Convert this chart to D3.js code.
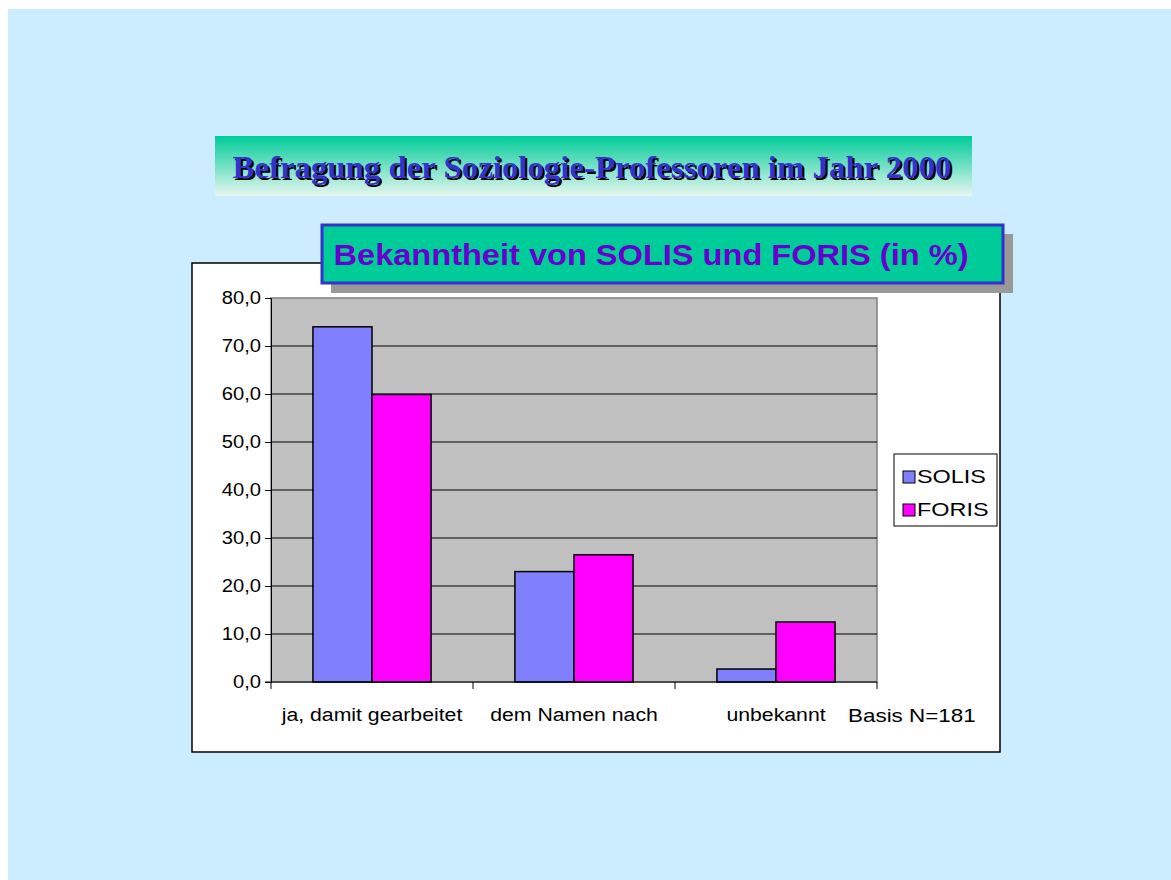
<!DOCTYPE html>
<html><head><meta charset="utf-8">
<script src="https://cdn.jsdelivr.net/npm/d3@7"></script>
<style>body{margin:0;background:#fff;} svg{display:block;}</style>
</head><body>
<svg id="c" width="1171" height="880"></svg>
<script>
const categories = ["ja, damit gearbeitet", "dem Namen nach", "unbekannt"];
const seriesNames = ["SOLIS", "FORIS"];
const solis = [74.0, 23.0, 2.7];
const foris = [59.9, 26.5, 12.5];
const yTicks = [0, 10, 20, 30, 40, 50, 60, 70, 80];
const colors = ["#8080FF", "#FF00FF"];
const bannerTitle = "Befragung der Soziologie-Professoren im Jahr 2000";
const chartTitle = "Bekanntheit von SOLIS und FORIS (in %)";
const note = "Basis N=181";

const SANS = "Liberation Sans, Arial, sans-serif";
const svg = d3.select("#c");
const defs = svg.append("defs");
const g1 = defs.append("linearGradient").attr("id","bg1").attr("x1",0).attr("y1",0).attr("x2",0).attr("y2",1);
g1.append("stop").attr("offset","0%").attr("stop-color","#00CC99");
g1.append("stop").attr("offset","100%").attr("stop-color","#E6F6EF");

function stretch(sel, f){
  sel.each(function(){
    const L = this.getComputedTextLength();
    d3.select(this).attr("textLength", L*f).attr("lengthAdjust","spacingAndGlyphs");
  });
}

svg.append("rect").attr("x",8).attr("y",9).attr("width",1163).attr("height",871).attr("fill","#CCECFF");

// banner
svg.append("rect").attr("x",215).attr("y",136).attr("width",757).attr("height",60).attr("fill","url(#bg1)");
const bt = {x:592, y:178};
[["#000",2],["#3333CC",0]].forEach(([c,o])=>{
  svg.append("text").attr("x",bt.x+o).attr("y",bt.y+o).attr("text-anchor","middle")
    .attr("font-family","Liberation Serif, Times New Roman, serif").attr("font-weight","bold").attr("font-size",32)
    .attr("fill",c).attr("textLength",719).attr("lengthAdjust","spacingAndGlyphs").text(bannerTitle);
});

// chart frame
svg.append("rect").attr("x",192).attr("y",263).attr("width",808).attr("height",489)
  .attr("fill","#fff").attr("stroke","#000").attr("stroke-width",1.5);

const m = {l:271, r:877, t:298, b:682};
const x0 = d3.scaleBand().domain(categories).range([m.l, m.r]).paddingInner(0).paddingOuter(0);
const x1 = d3.scaleBand().domain(seriesNames).range([0, x0.bandwidth()]).paddingInner(0).paddingOuter(0.71);
const y = d3.scaleLinear().domain([0,80]).range([m.b, m.t]);

svg.append("rect").attr("x",m.l).attr("y",m.t).attr("width",m.r-m.l).attr("height",m.b-m.t)
  .attr("fill","#C0C0C0").attr("stroke","#808080").attr("stroke-width",1.5);

// gridlines
svg.append("g").selectAll("line").data(yTicks.filter(d=>d>0 && d<80)).join("line")
  .attr("x1",m.l).attr("x2",m.r).attr("y1",d=>y(d)).attr("y2",d=>y(d))
  .attr("stroke","#000").attr("stroke-width",1);

// y axis
const yAxis = d3.axisLeft(y).tickValues(yTicks).tickSize(6).tickPadding(4)
  .tickFormat(d=>d3.format(".1f")(d).replace(".",","));
const ya = svg.append("g").attr("transform",`translate(${m.l},0)`).call(yAxis);
ya.select(".domain").attr("stroke","#000");
ya.selectAll("text").attr("font-family",SANS).attr("font-size",18).attr("fill","#000").call(stretch,1.12);

// bars
const data = categories.map((c,i)=>({c, vals:[solis[i], foris[i]]}));
const grp = svg.append("g").selectAll("g").data(data).join("g")
  .attr("transform",d=>`translate(${x0(d.c)},0)`);
grp.selectAll("rect").data(d=>d.vals.map((v,j)=>({s:seriesNames[j], v, j}))).join("rect")
  .attr("x",d=>x1(d.s)).attr("width",x1.bandwidth())
  .attr("y",d=>y(d.v)).attr("height",d=>y(0)-y(d.v))
  .attr("fill",d=>colors[d.j]).attr("stroke","#000").attr("stroke-width",1.5);

// x axis
svg.append("line").attr("x1",m.l-6).attr("x2",m.r).attr("y1",m.b).attr("y2",m.b).attr("stroke","#000").attr("stroke-width",1);
const bounds = categories.map(c=>x0(c)).concat([m.r]);
svg.append("g").selectAll("line").data(bounds).join("line")
  .attr("x1",d=>d).attr("x2",d=>d).attr("y1",m.b).attr("y2",m.b+7).attr("stroke","#000");
svg.append("g").selectAll("text").data(categories).join("text")
  .attr("x",d=>x0(d)+x0.bandwidth()/2).attr("y",721).attr("text-anchor","middle")
  .attr("font-family",SANS).attr("font-size",18).attr("fill","#000").text(d=>d).call(stretch,1.18);
svg.append("text").attr("x",848).attr("y",722).attr("font-family",SANS)
  .attr("font-size",19).attr("fill","#000").text(note).call(stretch,1.18);

// legend
svg.append("rect").attr("x",894).attr("y",454).attr("width",103).attr("height",72)
  .attr("fill","#fff").attr("stroke","#000").attr("stroke-width",1);
const lg = svg.append("g").selectAll("g").data(seriesNames).join("g")
  .attr("transform",(d,i)=>`translate(903,${471+i*33})`);
lg.append("rect").attr("width",12).attr("height",12).attr("fill",(d,i)=>colors[i]).attr("stroke","#000");
lg.append("text").attr("x",14).attr("y",12).attr("font-family",SANS)
  .attr("font-size",18).attr("fill","#000").text(d=>d).call(stretch,1.3);

// chart title box
svg.append("rect").attr("x",331).attr("y",234).attr("width",682).attr("height",59).attr("fill","#999999");
svg.append("rect").attr("x",322).attr("y",225).attr("width",681).attr("height",58)
  .attr("fill","#00CC99").attr("stroke","#3333CC").attr("stroke-width",3);
svg.append("text").attr("x",651).attr("y",265).attr("text-anchor","middle")
  .attr("font-family",SANS).attr("font-weight","bold").attr("font-size",30)
  .attr("fill","#6600CC").attr("textLength",635).attr("lengthAdjust","spacingAndGlyphs").text(chartTitle);
</script>
</body></html>
